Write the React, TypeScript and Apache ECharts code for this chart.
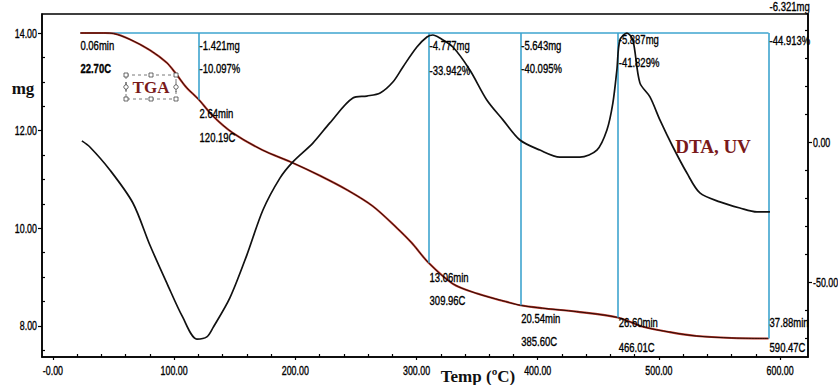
import React, { useEffect, useRef } from "react";
import * as echarts from "echarts";

// ---------- data ----------
const tgaTemp = [22.7, 43, 50, 63.5, 80, 94, 102, 110, 120.19, 132, 148, 173, 196, 220, 243, 264, 284, 296, 309.96, 330, 350, 370, 385.6, 404, 432, 466.01, 487, 509, 531, 560, 590.47];
const tgaMass = [14.0, 14.0, 13.99, 13.87, 13.65, 13.39, 13.15, 12.89, 12.64, 12.3, 11.96, 11.6, 11.36, 11.08, 10.78, 10.45, 10.0, 9.7, 9.29, 8.86, 8.66, 8.52, 8.42, 8.36, 8.29, 8.17, 7.98, 7.87, 7.79, 7.75, 7.74];

const dtaTemp = [23.9, 30.5, 47, 66, 80, 94, 107, 118.8, 127, 132, 146, 160, 173.3, 187.3, 198, 214.5, 228.5, 247.5, 259, 270, 280.5, 288.8, 300.3, 308.6, 313.5, 319.3, 330, 344, 358, 371.3, 385.3, 401.8, 418.3, 434.8, 448.8, 457.1, 462, 465.3, 467.8, 473.6, 478.5, 484.3, 492.6, 500.8, 511.6, 523.1, 533.8, 550.3, 566.8, 580.9, 591.6];
const dtaSignal = [0.4, -1.8, -10, -21.8, -36.8, -50.4, -62.5, -70.4, -69.6, -66.4, -55.7, -40.4, -24.3, -12.9, -7.1, -0.4, 6.8, 15.7, 16.4, 17.5, 21.4, 26.8, 33.9, 37.5, 38.2, 37.1, 33.9, 25.7, 15.0, 7.9, 0.7, -2.9, -5.4, -5.4, -2.9, 4.3, 13.9, 25.7, 36.4, 38.9, 36.4, 21.1, 16.1, 7.9, -1.8, -11.1, -18.2, -21.4, -23.6, -25.0, -25.0];

const baselineMass = 14.0;
const startTemp = 22.7;
const startLabels = ["0.06min", "22.70C"];
const stepTemp = [120.19, 309.96, 385.6, 466.01, 590.47];
const stepMass = [12.64, 9.29, 8.42, 8.17, 7.74];
const stepTime = ["2.64min", "13.06min", "20.54min", "26.60min", "37.88min"];
const stepTempLabel = ["120.19C", "309.96C", "385.60C", "466.01C", "590.47C"];
const stepLossMg = ["-1.421mg", "-4.777mg", "-5.643mg", "-5.887mg", "-6.321mg"];
const stepLossPct = ["-10.097%", "-33.942%", "-40.095%", "-41.829%", "-44.913%"];

const xLabelTicks = [0, 100, 200, 300, 400, 500, 600];
const xTickLabels = ["-0.00", "100.00", "200.00", "300.00", "400.00", "500.00", "600.00"];
const xMinorTicks = [20, 40, 60, 80, 120, 140, 160, 180, 220, 240, 260, 280, 320, 340, 360, 380, 420, 440, 460, 480, 520, 540, 560, 580];
const leftLabelTicks = [8, 10, 12, 14];
const leftTickLabels = ["8.00", "10.00", "12.00", "14.00"];
const leftMinorTicks = [7.5, 8.5, 9, 9.5, 10.5, 11, 11.5, 12.5, 13, 13.5];
const rightLabelTicks = [0, -50];
const rightTickLabels = ["0.00", "-50.00"];
const rightMinorTicks = [40, 30, 20, 10, -10, -20, -30, -40, -60, -70];

// ---------- layout (pixels) ----------
const topTextY = [[45, 68], [45, 70], [45, 68], [39, 62], [6, 40]];
const bottomTextY = [[113, 137], [277, 300], [318, 341], [322, 347], [322, 347]];
const startTextY = [45, 68];

const sans = "'Liberation Sans', Arial, sans-serif";
const serif = "'Liberation Serif', 'Times New Roman', serif";
const cyan = "#3ea4cf";

export default function App() {
  const ref = useRef<HTMLDivElement>(null);

  useEffect(() => {
    if (!ref.current) return;
    const chart = echarts.init(ref.current, undefined, { renderer: "svg" });
    const axisLine = { show: true, onZero: false, lineStyle: { color: "#000", width: 1.5 } };
    const tickStyle = { color: "#000", width: 1.2 };

    const tgaData = tgaTemp.map((t, i) => [t, tgaMass[i]]);
    const dtaData = dtaTemp.map((t, i) => [t, dtaSignal[i]]);

    chart.setOption({
      animation: false,
      backgroundColor: "#fff",
      grid: {
        left: 42, right: 30, top: 14, bottom: 28,
        show: true, borderColor: "#000", borderWidth: 1.5, backgroundColor: "transparent",
      },
      xAxis: [
        {
          type: "value", min: -9, max: 623, position: "bottom",
          axisLine,
          axisTick: { show: true, customValues: xLabelTicks, length: 3, inside: false, lineStyle: tickStyle },
          axisLabel: { show: false },
          splitLine: { show: false },
        },
        {
          type: "value", min: -9, max: 623, position: "bottom",
          axisLine: { show: false, onZero: false },
          axisTick: { show: true, customValues: xMinorTicks, length: 3, inside: true, lineStyle: tickStyle },
          axisLabel: { show: false },
          splitLine: { show: false },
        },
      ],
      yAxis: [
        {
          type: "value", min: 7.36, max: 14.39, position: "left",
          axisLine,
          axisTick: { show: true, customValues: leftLabelTicks, length: 4, inside: false, lineStyle: tickStyle },
          axisLabel: { show: false },
          splitLine: { show: false },
        },
        {
          type: "value", min: -76.8, max: 45.7, position: "right",
          axisLine,
          axisTick: { show: true, customValues: rightLabelTicks, length: 4, inside: false, lineStyle: tickStyle },
          axisLabel: { show: false },
          splitLine: { show: false },
        },
        {
          type: "value", min: 7.36, max: 14.39, position: "left",
          axisLine: { show: false, onZero: false },
          axisTick: { show: true, customValues: leftMinorTicks, length: 3, inside: true, lineStyle: tickStyle },
          axisLabel: { show: false },
          splitLine: { show: false },
        },
        {
          type: "value", min: -76.8, max: 45.7, position: "right",
          axisLine: { show: false, onZero: false },
          axisTick: { show: true, customValues: rightMinorTicks, length: 3, inside: true, lineStyle: tickStyle },
          axisLabel: { show: false },
          splitLine: { show: false },
        },
      ],
      series: [
        {
          name: "steps", type: "line", xAxisIndex: 0, yAxisIndex: 0, z: 1,
          data: [[startTemp, baselineMass], [stepTemp[stepTemp.length - 1], baselineMass]],
          symbol: "none", lineStyle: { color: cyan, width: 1.6 },
          markLine: {
            silent: true, symbol: ["none", "none"], label: { show: false },
            lineStyle: { color: cyan, width: 1.6, type: "solid" },
            data: stepTemp.map((t, i) => [{ coord: [t, baselineMass] }, { coord: [t, stepMass[i]] }]),
          },
        },
        {
          name: "TGA-red", type: "line", xAxisIndex: 0, yAxisIndex: 0, z: 3,
          data: tgaData, symbol: "none", smooth: 0.3,
          lineStyle: { color: "#b8362a", width: 2.1 },
        },
        {
          name: "TGA", type: "line", xAxisIndex: 0, yAxisIndex: 0, z: 4,
          data: tgaData, symbol: "none", smooth: 0.3,
          lineStyle: { color: "#2a0c06", width: 1.0 },
        },
        {
          name: "DTA", type: "line", xAxisIndex: 0, yAxisIndex: 1, z: 5,
          data: dtaData, symbol: "none", smooth: 0.3,
          lineStyle: { color: "#111", width: 1.7 },
        },
      ],
    });

    const px = (t: number) => chart.convertToPixel({ xAxisIndex: 0 }, t) as number;
    const pyL = (v: number) => chart.convertToPixel({ yAxisIndex: 0 }, v) as number;
    const pyR = (v: number) => chart.convertToPixel({ yAxisIndex: 1 }, v) as number;
    const txt = (text: string, x: number, y: number, extra: any = {}, sc = 0.76) => ({
      type: "text", x, y, z: 20, scaleX: sc,
      style: {
        text, fill: "#000", stroke: "#000", lineWidth: 0.35, fontSize: 12.5, fontFamily: sans,
        align: "left", verticalAlign: "middle", ...extra,
      },
    });

    const texts: any[] = [];
    const sx = px(startTemp);
    texts.push(txt(startLabels[0], sx, startTextY[0]));
    texts.push(txt(startLabels[1], sx, startTextY[1], { fontWeight: "bold" }));
    stepTemp.forEach((t, i) => {
      const x = px(t) + 1;
      texts.push(txt(stepLossMg[i], x, topTextY[i][0]));
      texts.push(txt(stepLossPct[i], x, topTextY[i][1]));
      texts.push(txt(stepTime[i], x, bottomTextY[i][0]));
      texts.push(txt(stepTempLabel[i], x, bottomTextY[i][1]));
    });
    // axis tick labels
    xLabelTicks.forEach((v, i) => texts.push(txt(xTickLabels[i], px(v), 370, { fontSize: 12, align: "center" }, 0.74)));
    leftLabelTicks.forEach((v, i) => texts.push(txt(leftTickLabels[i], 37, pyL(v), { fontSize: 12, align: "right" }, 0.74)));
    rightLabelTicks.forEach((v, i) => texts.push(txt(rightTickLabels[i], 813, pyR(v), { fontSize: 12, align: "left" }, 0.74)));

    // TGA selection box
    const bx0 = 126, bx1 = 176, by0 = 75, by1 = 99, bm = 87;
    const handles: any[] = [];
    [[bx0, by0], [(bx0 + bx1) / 2, by0], [bx1, by0], [bx0, by1], [(bx0 + bx1) / 2, by1], [bx1, by1]].forEach(([hx, hy]) => {
      handles.push({ type: "rect", shape: { x: hx - 2, y: hy - 2, width: 4, height: 4 }, style: { fill: "#fff", stroke: "#444", lineWidth: 0.8 }, z: 21 });
    });
    [bx0, bx1].forEach((hx) => {
      handles.push({ type: "line", shape: { x1: hx, y1: bm - 5, x2: hx, y2: bm + 5 }, style: { stroke: "#444", lineWidth: 0.8 }, z: 21 });
      handles.push({ type: "circle", shape: { cx: hx, cy: bm, r: 2.2 }, style: { fill: "#fff", stroke: "#444", lineWidth: 0.8 }, z: 22 });
    });

    chart.setOption({
      graphic: [
        ...texts,
        { type: "rect", shape: { x: bx0, y: by0, width: bx1 - bx0, height: by1 - by0 }, style: { fill: "none", stroke: "#555", lineWidth: 0.8, lineDash: [3, 3] }, z: 20 },
        ...handles,
        { type: "text", x: 151, y: 87, z: 23, style: { text: "TGA", fill: "#7a1a1a", fontSize: 17, fontWeight: "bold", fontFamily: serif, align: "center", verticalAlign: "middle" } },
        { type: "text", x: 23, y: 88, z: 23, style: { text: "mg", fill: "#111", fontSize: 17, fontWeight: "bold", fontFamily: serif, align: "center", verticalAlign: "middle" } },
        { type: "text", x: 478, y: 376, z: 23, style: { text: "Temp (ºC)", fill: "#111", fontSize: 17, fontWeight: "bold", fontFamily: serif, align: "center", verticalAlign: "middle" } },
        { type: "text", x: 713, y: 146, z: 23, style: { text: "DTA, UV", fill: "#7a1a1a", fontSize: 19, fontWeight: "bold", fontFamily: serif, align: "center", verticalAlign: "middle" } },
      ],
    });

    return () => chart.dispose();
  }, []);

  return <div ref={ref} style={{ position: "absolute", left: 0, top: 0, width: 838, height: 385 }} />;
}
